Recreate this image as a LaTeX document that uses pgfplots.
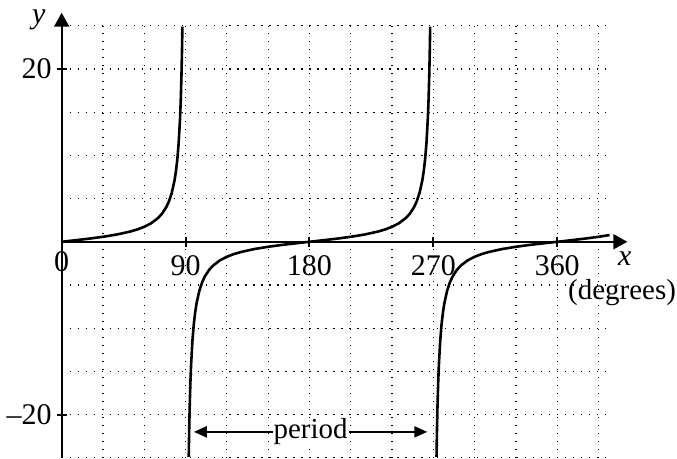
\documentclass[border=0pt]{standalone}
\usepackage{fontspec}
\setmainfont{Liberation Serif}
\usepackage{pgfplots}
\pgfplotsset{compat=1.18}
\usetikzlibrary{arrows.meta}

\begin{document}
\begin{tikzpicture}
\begin{axis}[
  x=0.689pt, y=4.325pt,
  xmin=0, xmax=400, ymin=-25, ymax=25,
  axis lines=middle,
  axis line style={line width=1pt},
  x axis line style={-{Triangle[length=7pt,width=7.5pt]}, shorten >=-7.5pt},
  y axis line style={-{Triangle[length=7pt,width=7.5pt]}, shorten >=-6.5pt},
  xtick={0,90,180,270,360},
  xticklabels={0,90,180,270,360},
  ytick={-20,20},
  yticklabels={\textendash20,20},
  minor xtick={30,60,...,390},
  minor ytick={-25,-20,...,25},
  grid=both,
  major grid style={black, line width=0.6pt, dash pattern=on 0.6pt off 3.4pt},
  minor grid style={black, line width=0.6pt, dash pattern=on 0.6pt off 3.4pt},
  major tick length=5pt,
  minor tick length=0pt,
  tick align=center,
  tick style={black, line width=1pt},
  tick label style={font=\fontsize{15}{17}\selectfont},
  xticklabel style={yshift=-1pt},
  yticklabel style={xshift=1pt},
  clip=false,
]
% tangent curve
\addplot[black, line width=1.3pt] coordinates {
  (0,0) (10,0.1763) (20,0.3640) (30,0.5774) (40,0.8391) (50,1.1918)
  (55,1.4281) (60,1.7321) (65,2.1445) (70,2.7475) (73,3.2709) (76,4.0108)
  (78,4.7046) (80,5.6713) (82,7.1154) (83,8.1443) (84,9.5144) (85,11.4301)
  (86,14.3007) (86.5,16.3499) (87,19.0811) (87.4,22.0217) (87.7,24.8978)
};
\addplot[black, line width=1.3pt] coordinates {
  (92.3,-24.8978) (92.6,-22.0217) (93,-19.0811) (93.5,-16.3499) (94,-14.3007)
  (95,-11.4301) (96,-9.5144) (97,-8.1443) (98,-7.1154) (100,-5.6713)
  (102,-4.7046) (104,-4.0108) (107,-3.2709) (110,-2.7475) (115,-2.1445)
  (120,-1.7321) (125,-1.4281) (130,-1.1918) (140,-0.8391) (150,-0.5774)
  (160,-0.3640) (170,-0.1763) (180,0) (190,0.1763) (200,0.3640) (210,0.5774)
  (220,0.8391) (230,1.1918) (235,1.4281) (240,1.7321) (245,2.1445)
  (250,2.7475) (253,3.2709) (256,4.0108) (258,4.7046) (260,5.6713)
  (262,7.1154) (263,8.1443) (264,9.5144) (265,11.4301) (266,14.3007)
  (266.5,16.3499) (267,19.0811) (267.4,22.0217) (267.7,24.8978)
};
\addplot[black, line width=1.3pt] coordinates {
  (272.3,-24.8978) (272.6,-22.0217) (273,-19.0811) (273.5,-16.3499)
  (274,-14.3007) (275,-11.4301) (276,-9.5144) (277,-8.1443) (278,-7.1154)
  (280,-5.6713) (282,-4.7046) (284,-4.0108) (287,-3.2709) (290,-2.7475)
  (295,-2.1445) (300,-1.7321) (305,-1.4281) (310,-1.1918) (320,-0.8391)
  (330,-0.5774) (340,-0.3640) (350,-0.1763) (360,0) (370,0.1763)
  (380,0.3640) (390,0.5774) (398,0.7813)
};
% labels
\node[below, inner sep=2pt] at (axis cs:0,-0.6) {\fontsize{15}{17}\selectfont 0};
\node[inner sep=0pt] at (axis cs:-16.7,25.7) {\fontsize{15}{17}\selectfont\textit{y}};
\node[inner sep=0pt] at (axis cs:409,-2.0) {\fontsize{15}{17}\selectfont\textit{x}};
\node[inner sep=0pt, anchor=east] at (axis cs:446.5,-5.9) {\fontsize{14.5}{16}\selectfont(degrees)};
\draw[line width=1pt, {Triangle[length=6.5pt,width=5.5pt]}-{Triangle[length=6.5pt,width=5.5pt]}]
  (axis cs:96,-22) -- (axis cs:265.6,-22)
  node[midway, fill=white, inner sep=0.5pt] {\fontsize{14.5}{16}\selectfont period};
% page extent
\path (axis cs:-44.3,-25.09) rectangle (axis cs:447,27.98);
\end{axis}
\end{tikzpicture}
\end{document}
